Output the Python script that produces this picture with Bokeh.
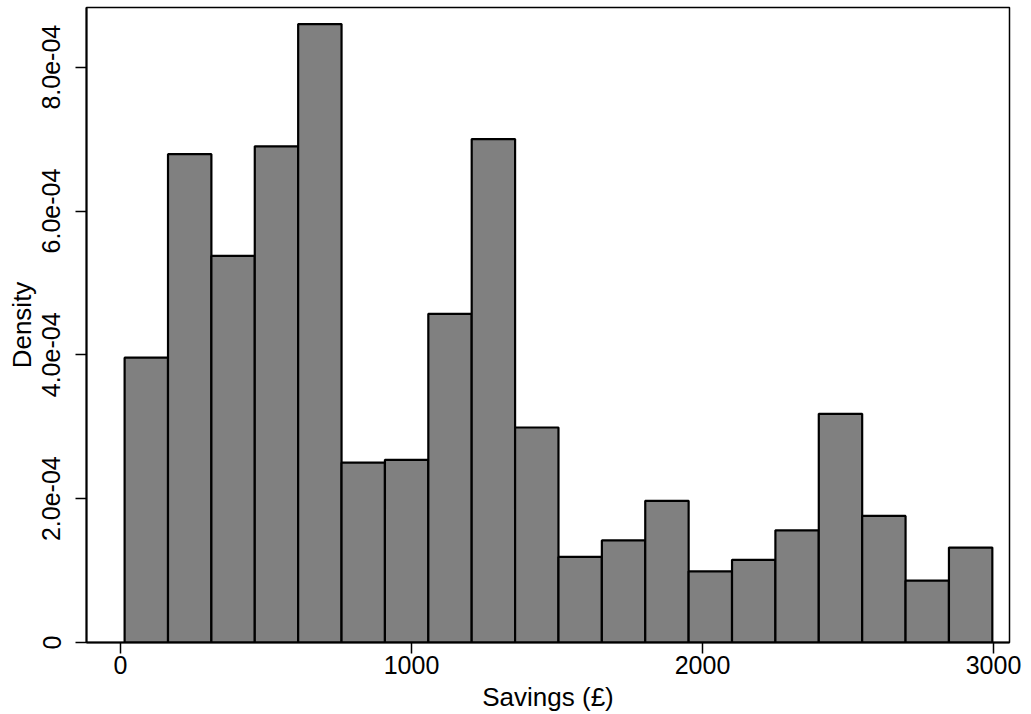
import math
from bokeh.plotting import figure
from bokeh.models import FixedTicker, CustomJSTickFormatter, Range1d, ColumnDataSource
from bokeh.embed import file_html
from bokeh.resources import INLINE

# Histogram data
bin_start = 14.0
bin_width = 149.1
density = [3.96e-4, 6.79e-4, 5.375e-4, 6.90e-4, 8.60e-4,
           2.50e-4, 2.54e-4, 4.57e-4, 7.00e-4, 2.99e-4,
           1.19e-4, 1.42e-4, 1.97e-4, 0.99e-4, 1.15e-4,
           1.56e-4, 3.18e-4, 1.76e-4, 0.86e-4, 1.32e-4]
x_ticks = [0, 1000, 2000, 3000]
y_ticks = [0, 2e-4, 4e-4, 6e-4, 8e-4]

lefts = [bin_start + i * bin_width for i in range(len(density))]
rights = [l + bin_width for l in lefts]
src = ColumnDataSource(dict(left=lefts, right=rights, top=density, bottom=[0] * len(density)))

FONT = "Liberation Sans"

p = figure(width=1031, height=714, output_backend="svg", toolbar_location=None,
           x_range=Range1d(-117, 3055), y_range=Range1d(0, 8.83e-4),
           min_border_left=86, min_border_right=22, min_border_top=7, min_border_bottom=71)

p.quad(left="left", right="right", top="top", bottom="bottom", source=src,
       fill_color="#808080", line_color="black", line_width=2.2)

p.grid.visible = False
p.outline_line_color = "black"
p.outline_line_width = 1.5
p.background_fill_color = "white"
p.border_fill_color = "white"

for ax in (p.xaxis[0], p.yaxis[0]):
    ax.axis_line_color = "black"
    ax.axis_line_width = 2
    ax.major_tick_line_color = "black"
    ax.major_tick_line_width = 1.5
    ax.major_tick_out = 11
    ax.major_tick_in = 0
    ax.minor_tick_line_color = None
    ax.major_label_text_font = FONT
    ax.major_label_text_font_size = "25px"
    ax.major_label_text_color = "black"
    ax.axis_label_text_font = FONT
    ax.axis_label_text_font_size = "26px"
    ax.axis_label_text_font_style = "normal"
    ax.axis_label_text_color = "black"

p.xaxis.ticker = FixedTicker(ticks=x_ticks)
p.xaxis.axis_label = "Savings (£)"
p.xaxis.major_label_standoff = 2
p.xaxis.axis_label_standoff = 5

p.yaxis.ticker = FixedTicker(ticks=y_ticks)
p.yaxis.formatter = CustomJSTickFormatter(code="""
if (tick == 0) { return "0"; }
var s = tick.toExponential(1);
return s.replace(/e([+-])(\\d)$/, "e$10$2");
""")
p.yaxis.major_label_orientation = "vertical"
p.yaxis.major_label_standoff = 15
p.yaxis.axis_label = "Density"
p.yaxis.axis_label_standoff = 3

open("out.html", "w").write(file_html(p, INLINE))
